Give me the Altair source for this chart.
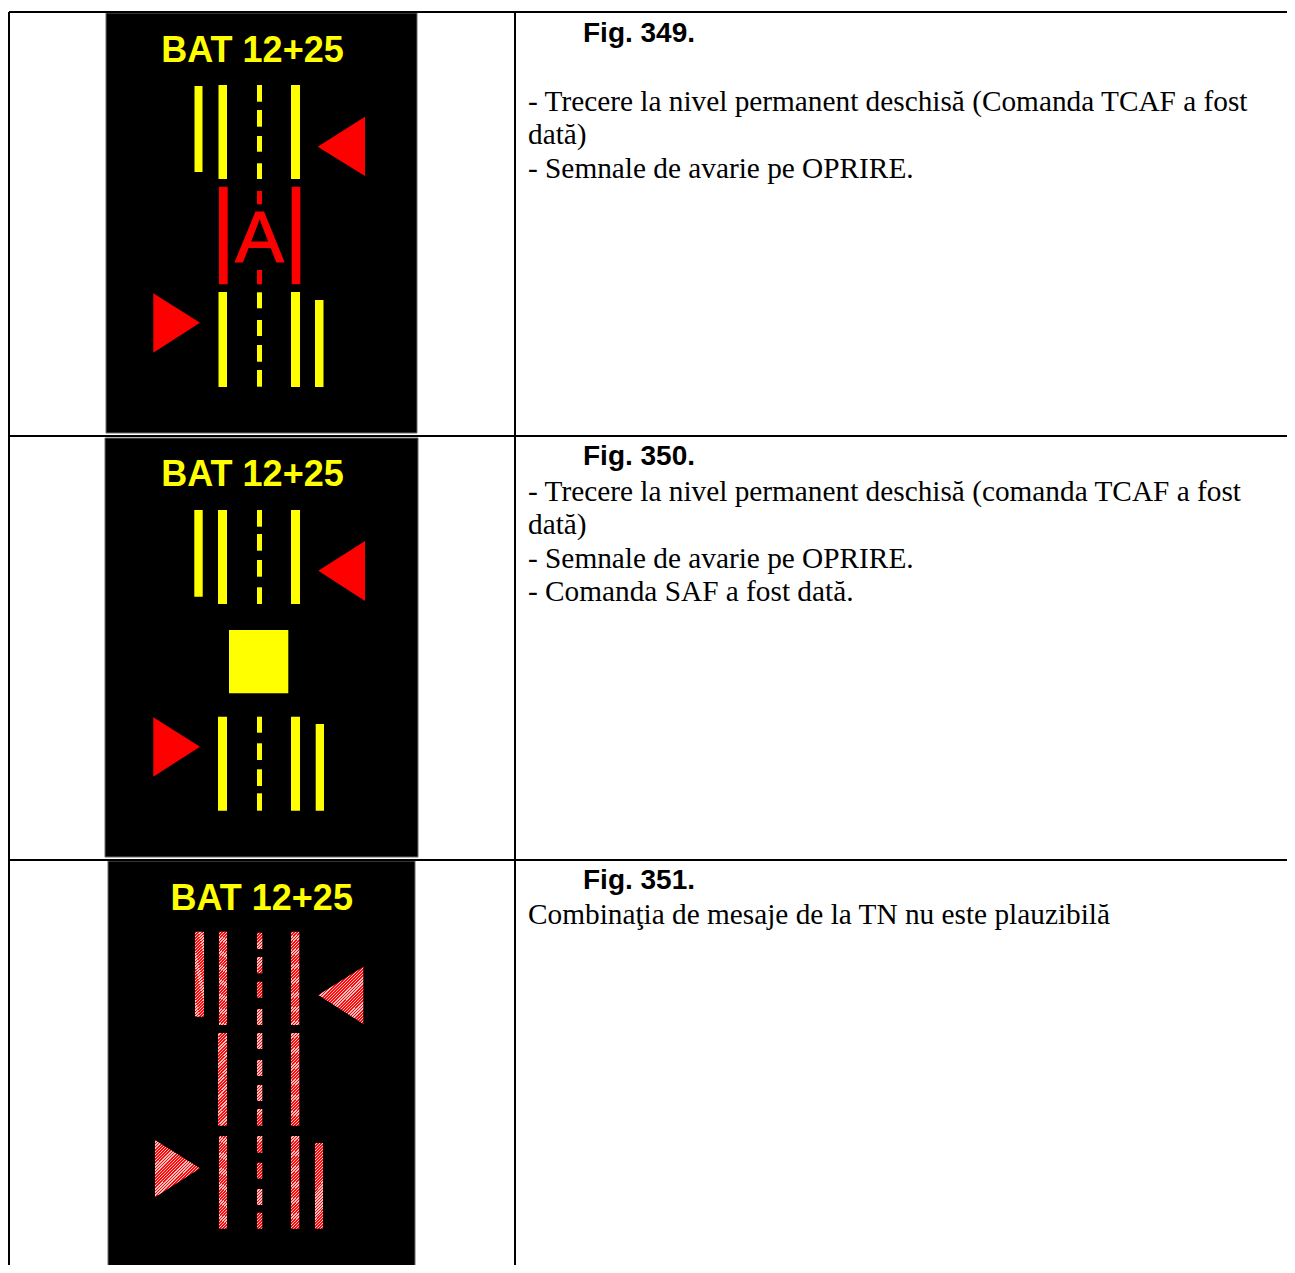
import math
import altair as alt
import pandas as pd

# ---------------- data (page coordinates) ----------------
# table grid lines: x, x2, y, y2
grid_x = [9, 9, 515, 9, 9]
grid_x2 = [1295, 9, 515, 1295, 1295]
grid_y = [12, 12, 12, 436, 860]
grid_y2 = [12, 1273, 1273, 436, 860]

# black display panels
panel_x = [106, 105, 108]
panel_x2 = [417, 418, 415]
panel_y = [13, 438, 861]
panel_y2 = [433, 857, 1273]

# solid rectangles (lane bars, dashes, square): x, x2, y, y2, colour
solid_x = [194.5, 218.5, 291, 257, 257, 257, 257, 218.5, 291, 315, 257, 257, 257, 257,
           219, 291.7, 257, 257,
           194.3, 218, 291, 257, 257, 257, 257, 229, 218, 291, 315.7, 257, 257, 257, 257]
solid_x2 = [202.5, 227, 300, 262, 262, 262, 262, 227, 300, 323.5, 262, 262, 262, 262,
            227.7, 300.3, 262, 262,
            202.7, 227, 300, 262, 262, 262, 262, 288.3, 227, 300, 324, 262, 262, 262, 262]
solid_y = [86, 85, 85, 85, 110, 136, 163.3, 292, 292, 300, 292.3, 320, 345, 370,
           186.7, 186.7, 191, 270,
           510, 510, 510, 510, 534, 560, 587.3, 630, 716.7, 716.7, 724, 716.7, 743.3, 769.3, 793.3]
solid_y2 = [172, 179, 179, 101.7, 126.7, 151.7, 179, 387, 387, 387, 308.3, 336, 361.7, 386.7,
            284.3, 284.3, 204.3, 284.3,
            596.7, 604, 604, 526.7, 550.7, 576.7, 604, 693.3, 810.7, 810.7, 810.7, 732.7, 760, 786, 810.7]
solid_c = ["#ffff00"] * 14 + ["#ff0000"] * 4 + ["#ffff00"] * 15

# hatched (implausible state) bars of panel 3
hbar_x = [195, 219, 291, 218, 291, 219, 291, 315]
hbar_x2 = [204, 227, 299.3, 227, 299.3, 227, 299.3, 323]
hbar_y = [931.7, 931.7, 931.7, 1033, 1033, 1136, 1136, 1143]
hbar_y2 = [1016.7, 1025, 1025, 1125.7, 1125.7, 1228.7, 1228.7, 1228.7]

# hatched dashes of panel 3
hdash_y = [932.7, 957, 981.7, 1009, 1033, 1060, 1085, 1109, 1136, 1162.7, 1189, 1212.7]
hdash_y2 = [949, 973.3, 997.7, 1025, 1049, 1076, 1101, 1125.7, 1152.7, 1178.7, 1205, 1228.7]
hdash_x = [257] * 12
hdash_x2 = [262.3] * 12

# triangles: id, x, top, bottom
tri_id = ["t1", "t1", "t2", "t2", "t3", "t3", "t4", "t4"]
tri_x = [317.7, 365, 153.3, 200, 318.3, 365, 153.3, 200]
tri_top = [146.7, 116.7, 293.3, 322.7, 570.7, 541, 717.3, 746.7]
tri_bot = [146.7, 176, 352.7, 322.7, 570.7, 601, 776.7, 746.7]

htri_id = ["t5", "t5", "t6", "t6"]
htri_x = [318.3, 363.3, 155, 200]
htri_top = [995, 966.7, 1140, 1168.3]
htri_bot = [995, 1024, 1197.3, 1168.3]

# texts
bat_text = ["BAT 12+25", "BAT 12+25", "BAT 12+25"]
bat_x = [252.5, 252.5, 261.7]
bat_y = [62, 486, 910]

a_text = ["A"]
a_x = [259.5]
a_y = [261.7]

fig_text = ["Fig. 349.", "Fig. 350.", "Fig. 351."]
fig_x = [583, 583, 583]
fig_y = [42.3, 465, 888.5]

body_text = [
    "- Trecere la nivel permanent deschisă (Comanda TCAF a fost",
    "dată)",
    "- Semnale de avarie pe OPRIRE.",
    "- Trecere la nivel permanent deschisă (comanda TCAF a fost",
    "dată)",
    "- Semnale de avarie pe OPRIRE.",
    "- Comanda SAF a fost dată.",
    "Combinaţia de mesaje de la TN nu este plauzibilă",
]
body_x = [528] * 8
body_y = [110.5, 144, 177.5, 501, 534, 567.5, 601, 923.5]

# ---------------- scales ----------------
W, H = 1279, 1257
xs = alt.Scale(domain=[8, 8 + W], nice=False, zero=False)
ys = alt.Scale(domain=[8, 8 + H], nice=False, zero=False, reverse=True)


def X(f):
    return alt.X(f, type="quantitative", scale=xs, axis=None)


def Y(f):
    return alt.Y(f, type="quantitative", scale=ys, axis=None)


def hatch(w, h, period=2.2, frac=0.55):
    r = w / h
    dy = (1 + r) / (1 + r * r)
    dx = r * dy
    n = (w + h) / (math.sqrt(2) * period)
    step = 1.0 / n
    stops = []
    k = 0
    while k * step < 1 - 1e-9:
        a = k * step
        b = min(1.0, a + frac * step)
        c = min(1.0, (k + 1) * step)
        stops += [alt.GradientStop(offset=a, color="#ff0a0a"),
                  alt.GradientStop(offset=b, color="#ff0a0a"),
                  alt.GradientStop(offset=b, color="#ffc0c0"),
                  alt.GradientStop(offset=c, color="#ffc0c0")]
        k += 1
    return alt.LinearGradient(gradient="linear", stops=stops, x1=0, y1=0, x2=dx, y2=dy)


grid = pd.DataFrame({"x": grid_x, "x2": grid_x2, "y": grid_y, "y2": grid_y2})
panels = pd.DataFrame({"x": panel_x, "x2": panel_x2, "y": panel_y, "y2": panel_y2})
solid = pd.DataFrame({"x": solid_x, "x2": solid_x2, "y": solid_y, "y2": solid_y2, "c": solid_c})
hbars = pd.DataFrame({"x": hbar_x, "x2": hbar_x2, "y": hbar_y, "y2": hbar_y2})
hdash = pd.DataFrame({"x": hdash_x, "x2": hdash_x2, "y": hdash_y, "y2": hdash_y2})
tris = pd.DataFrame({"id": tri_id, "x": tri_x, "y": tri_top, "y2": tri_bot})
htris = pd.DataFrame({"id": htri_id, "x": htri_x, "y": htri_top, "y2": htri_bot})
bat = pd.DataFrame({"t": bat_text, "x": bat_x, "y": bat_y})
alab = pd.DataFrame({"t": a_text, "x": a_x, "y": a_y})
figs = pd.DataFrame({"t": fig_text, "x": fig_x, "y": fig_y})
body = pd.DataFrame({"t": body_text, "x": body_x, "y": body_y})

enc_rect = dict(x=X("x"), x2=alt.X2("x2"), y=Y("y"), y2=alt.Y2("y2"))

layers = [
    alt.Chart(panels).mark_rect(fill="#000000", stroke="#6a6a6a", strokeWidth=1, clip=True).encode(**enc_rect),
    alt.Chart(grid).mark_rule(color="#000000", strokeWidth=2, clip=True).encode(**enc_rect),
    alt.Chart(solid).mark_rect(strokeWidth=0).encode(color=alt.Color("c:N", scale=None), **enc_rect),
    alt.Chart(hbars).mark_rect(strokeWidth=0, fill=hatch(8.5, 90)).encode(**enc_rect),
    alt.Chart(hdash).mark_rect(strokeWidth=0, fill=hatch(5.3, 16.5)).encode(**enc_rect),
    alt.Chart(tris).mark_area(fill="#ff0000", opacity=1).encode(
        x=X("x"), y=Y("y"), y2=alt.Y2("y2"), detail="id:N"),
    alt.Chart(htris).mark_area(fill=hatch(45, 57), opacity=1).encode(
        x=X("x"), y=Y("y"), y2=alt.Y2("y2"), detail="id:N"),
    alt.Chart(bat).mark_text(align="center", baseline="alphabetic", font="Liberation Sans",
                             fontSize=36, fontWeight="bold", color="#ffff00").encode(
        x=X("x"), y=Y("y"), text="t:N"),
    alt.Chart(alab).mark_text(align="center", baseline="alphabetic", font="Liberation Sans",
                              fontSize=73, color="#ff0000", stroke="#ff0000", strokeWidth=1.2).encode(
        x=X("x"), y=Y("y"), text="t:N"),
    alt.Chart(figs).mark_text(align="left", baseline="alphabetic", font="Liberation Sans",
                              fontSize=28, fontWeight="bold", color="#000000").encode(
        x=X("x"), y=Y("y"), text="t:N"),
    alt.Chart(body).mark_text(align="left", baseline="alphabetic", font="Liberation Serif",
                              fontSize=29.3, color="#000000").encode(
        x=X("x"), y=Y("y"), text="t:N"),
]

chart = alt.layer(*layers).properties(
    width=W, height=H, padding=0,
    autosize=alt.AutoSizeParams(type="none"),
).configure_view(stroke=None)

chart.save("out.html", embed_options={"renderer": "svg", "actions": False})
